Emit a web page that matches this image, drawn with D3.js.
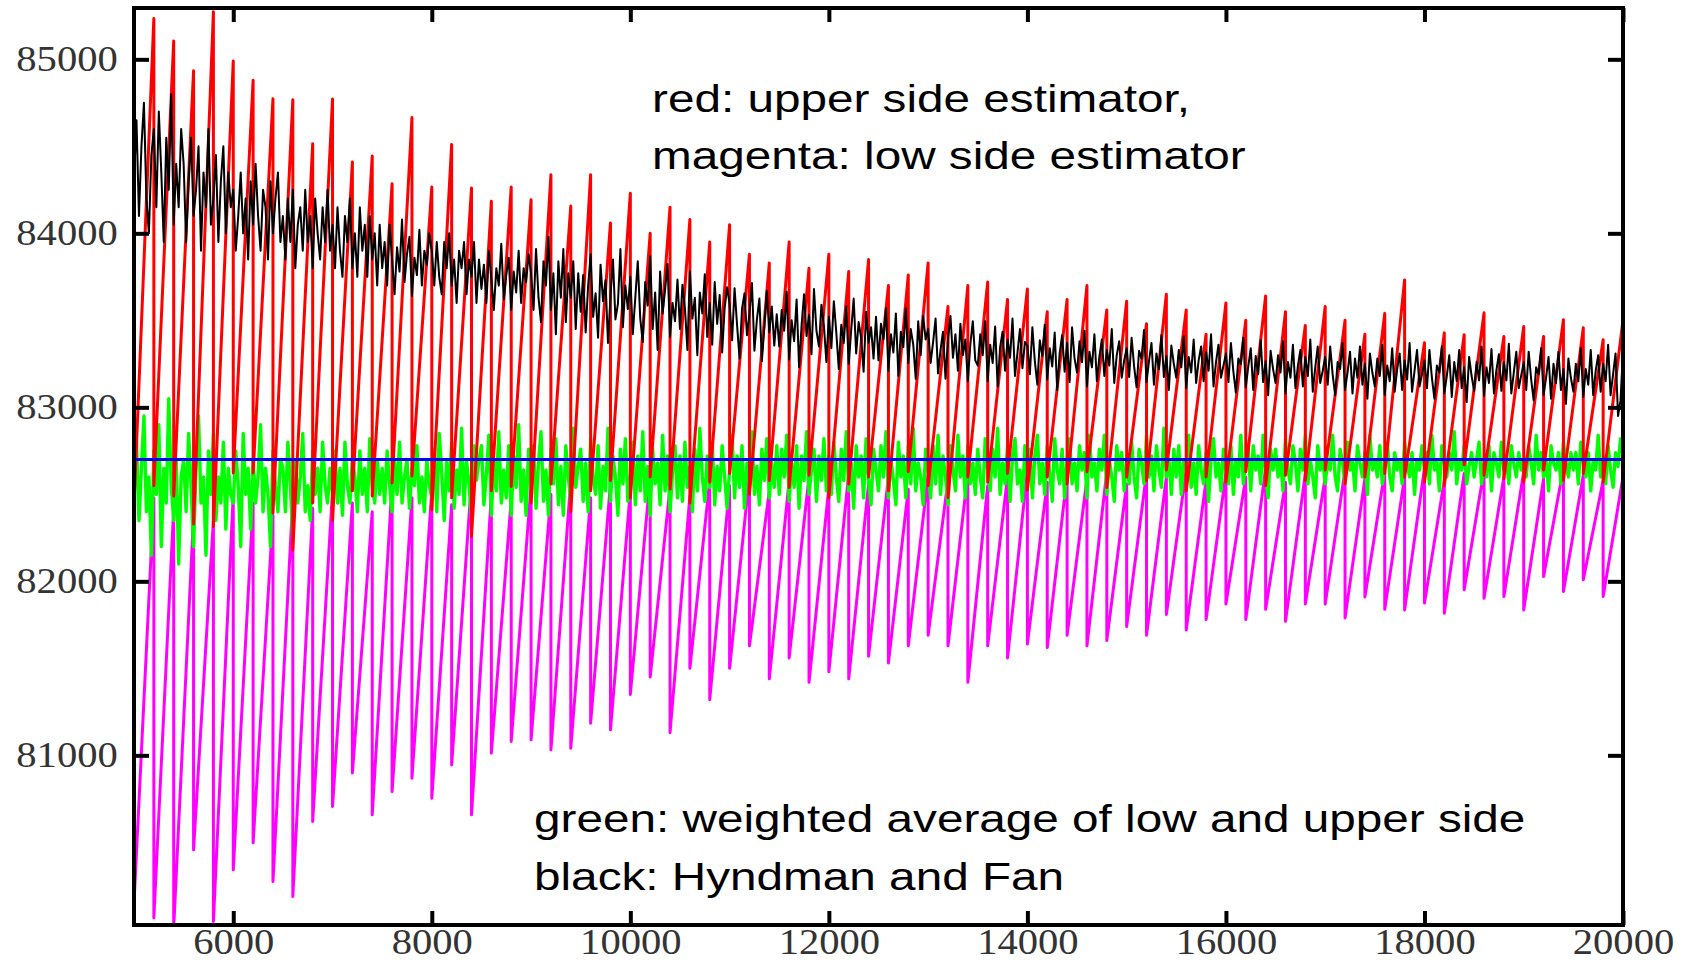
<!DOCTYPE html>
<html>
<head>
<meta charset="utf-8">
<script src="https://cdn.jsdelivr.net/npm/d3@7"></script>
<style>
    body { margin: 0; background: #fff; }
    svg { display: block; }
    .tick-label { font-family: "Liberation Serif", "Times New Roman", serif; font-size: 35px; fill: #333; }
    .note { font-family: "Liberation Sans", Arial, sans-serif; font-size: 38px; fill: #000; }
</style>
</head>
<body>
<svg id="chart" width="1689" height="963"></svg>
<script>

// Sample size at each jump of the estimators.
var toothN = [5000, 5200, 5400, 5600, 5800, 6000, 6200, 6400, 6600, 6800,
    7000, 7200, 7400, 7600, 7800, 8000, 8200, 8400, 8600, 8800,
    9000, 9200, 9400, 9600, 9800, 10000, 10200, 10400, 10600, 10800,
    11000, 11200, 11400, 11600, 11800, 12000, 12200, 12400, 12600, 12800,
    13000, 13200, 13400, 13600, 13800, 14000, 14200, 14400, 14600, 14800,
    15000, 15200, 15400, 15600, 15800, 16000, 16200, 16400, 16600, 16800,
    17000, 17200, 17400, 17600, 17800, 18000, 18200, 18400, 18600, 18800,
    19000, 19200, 19400, 19600, 19800, 20000];

// Upper side estimator: value just before each jump, and just after it.
var redPeak = [85700, 85234, 85106, 84934, 85273, 84990, 84880, 84774, 84768, 84515,
    84772, 84410, 84444, 84285, 84665, 84266, 84511, 84260, 84184, 84266,
    84193, 84337, 84157, 84337, 84060, 84230, 84000, 84150, 84080, 83950,
    84050, 83880, 83830, 83950, 83800, 83880, 83780, 83850, 83700, 83760,
    83830, 83580, 83700, 83720, 83620, 83680, 83550, 83620, 83700, 83560,
    83610, 83480, 83650, 83560, 83420, 83600, 83500, 83640, 83550, 83470,
    83580, 83500, 83420, 83540, 83732, 83371, 83428, 83417, 83543, 83407,
    83465, 83407, 83503, 83457, 83388, 83503];
var redTrough = [82430, 82550, 82490, 82330, 82315, 82623, 82623, 82393, 82180, 82450,
    82350, 82520, 82490, 82567, 82606, 82411, 82480, 82258, 82520, 82545,
    82450, 82560, 82400, 82520, 82580, 82480, 82600, 82530, 82450, 82570,
    82620, 82500, 82580, 82540, 82610, 82480, 82560, 82600, 82520, 82630,
    82550, 82480, 82600, 82570, 82620, 82525, 82600, 82560, 82630, 82540,
    82600, 82580, 82640, 82520, 82600, 82570, 82630, 82550, 82610, 82580,
    82640, 82560, 82600, 82620, 82600, 82570, 82550, 82670, 82610, 82590,
    82570, 82640, 82580, 82620, 82570];

// Low side estimator.
var magentaPeak = [82450, 82480, 82420, 82380, 82350, 82500, 82450, 82380, 82480, 82420,
    82520, 82450, 82400, 82560, 82480, 82520, 82440, 82580, 82500, 82470,
    82550, 82500, 82580, 82480, 82560, 82520, 82600, 82540, 82490, 82580,
    82550, 82610, 82520, 82580, 82600, 82540, 82620, 82560, 82600, 82530,
    82610, 82580, 82620, 82550, 82600, 82640, 82570, 82610, 82590, 82630,
    82560, 82620, 82600, 82640, 82580, 82620, 82600, 82650, 82570, 82620,
    82600, 82640, 82590, 82630, 82600, 82650, 82580, 82620, 82640, 82600,
    82630, 82590, 82650, 82610, 82580, 82600];
var magentaTrough = [80150, 80065, 80010, 80457, 80045, 80342, 80497, 80275, 80189, 80620,
    80706, 80899, 80658, 80792, 80869, 80754, 80945, 80658, 81013, 81080,
    81089, 81032, 81041, 81185, 81147, 81350, 81450, 81130, 81500, 81320,
    81500, 81630, 81440, 81560, 81420, 81480, 81440, 81570, 81530, 81630,
    81690, 81630, 81420, 81630, 81560, 81640, 81620, 81690, 81630, 81660,
    81740, 81690, 81810, 81720, 81780, 81870, 81780, 81840, 81770, 81870,
    81870, 81790, 81910, 81840, 81836, 81875, 81817, 81951, 81903, 81913,
    81836, 82028, 81942, 82009, 81913];

// Hyndman and Fan / weighted average, read every 25 from 5000 to 20000 (one row = 500).
var sampleStart = 5000, sampleStep = 25;
var blackValues = [
    84300, 84650, 84100, 84500, 84750, 84200, 84000, 84450, 84600, 84150, 84700, 84350, 83950, 84550, 84250, 84800, 84050, 84400, 84150, 84600,
    84400, 83950, 84300, 84550, 84100, 84250, 84500, 83900, 84350, 84150, 84600, 84050, 84200, 84450, 83950, 84300, 84500, 84000, 84350, 84150,
    84250, 83900, 84100, 84350, 84000, 84200, 83850, 84300, 84050, 84400, 84100, 83900, 84250, 84150, 83850, 84300, 84000, 84200, 84350, 83950,
    84100, 83850, 84200, 83950, 84250, 83800, 84050, 84150, 83900, 84250, 83950, 84100, 83800, 84200, 84000, 83850, 84150, 83950, 84250, 83900,
    84050, 83800, 84150, 83900, 83750, 84100, 83950, 84200, 83800, 84000, 83750, 84150, 83900, 84050, 83750, 84100, 83850, 84000, 83700, 84050,
    83800, 83950, 83700, 84050, 83850, 83650, 83920, 83780, 84080, 83720, 83880, 83980, 83640, 83860, 83760, 84020, 83700, 83900, 83820, 84000,
    83900, 83700, 83950, 83750, 83650, 83950, 83800, 84000, 83700, 83850, 83600, 83900, 83800, 83950, 83650, 83850, 83750, 83950, 83600, 83850,
    83680, 83820, 83600, 83900, 83740, 83560, 83800, 83700, 83940, 83620, 83760, 83860, 83560, 83780, 83660, 83900, 83600, 83800, 83720, 83880,
    83770, 83560, 83910, 83630, 83490, 83840, 83700, 83980, 83560, 83770, 83420, 83840, 83630, 83910, 83490, 83770, 83630, 83840, 83450, 83770,
    83550, 83760, 83430, 83700, 83880, 83520, 83655, 83400, 83820, 83610, 83730, 83370, 83640, 83850, 83505, 83595, 83910, 83460, 83700, 83565,
    83750, 83420, 83630, 83840, 83510, 83375, 83720, 83585, 83870, 83450, 83660, 83330, 83780, 83540, 83675, 83825, 83405, 83600, 83495, 83735,
    83450, 83705, 83570, 83330, 83780, 83510, 83630, 83300, 83660, 83540, 83765, 83405, 83600, 83360, 83720, 83480, 83645, 83315, 83570, 83690,
    83595, 83385, 83685, 83475, 83280, 83565, 83655, 83415, 83535, 83715, 83325, 83505, 83625, 83265, 83460, 83670, 83430, 83580, 83355, 83535,
    83350, 83560, 83440, 83665, 83275, 83500, 83380, 83620, 83230, 83470, 83650, 83410, 83530, 83305, 83680, 83440, 83350, 83590, 83470, 83260,
    83520, 83340, 83610, 83430, 83220, 83475, 83370, 83580, 83250, 83445, 83625, 83310, 83490, 83400, 83205, 83550, 83370, 83460, 83280, 83520,
    83270, 83480, 83390, 83570, 83210, 83420, 83315, 83540, 83180, 83435, 83345, 83570, 83255, 83450, 83360, 83165, 83495, 83300, 83525, 83390,
    83450, 83255, 83375, 83510, 83195, 83330, 83435, 83165, 83390, 83525, 83285, 83420, 83210, 83480, 83300, 83390, 83150, 83360, 83495, 83270,
    83240, 83420, 83300, 83495, 83150, 83360, 83255, 83465, 83120, 83345, 83435, 83210, 83390, 83285, 83510, 83180, 83315, 83450, 83225, 83375,
    83355, 83190, 83460, 83265, 83130, 83385, 83295, 83475, 83160, 83340, 83235, 83430, 83100, 83310, 83415, 83205, 83370, 83145, 83460, 83280,
    83200, 83380, 83260, 83440, 83120, 83320, 83230, 83420, 83150, 83290, 83390, 83180, 83330, 83240, 83450, 83140, 83300, 83380, 83170, 83270,
    83340, 83175, 83400, 83235, 83115, 83325, 83280, 83445, 83145, 83265, 83370, 83130, 83310, 83220, 83415, 83175, 83295, 83100, 83355, 83250,
    83170, 83330, 83230, 83410, 83110, 83290, 83200, 83390, 83140, 83270, 83350, 83150, 83320, 83210, 83420, 83120, 83260, 83360, 83170, 83240,
    83310, 83145, 83370, 83205, 83085, 83280, 83250, 83400, 83115, 83235, 83340, 83100, 83295, 83190, 83385, 83145, 83265, 83070, 83325, 83220,
    83140, 83300, 83200, 83380, 83080, 83260, 83170, 83360, 83110, 83240, 83330, 83120, 83290, 83180, 83390, 83090, 83230, 83350, 83140, 83210,
    83290, 83130, 83350, 83190, 83070, 83260, 83220, 83370, 83100, 83200, 83320, 83080, 83280, 83170, 83350, 83130, 83250, 83050, 83310, 83200,
    83120, 83280, 83180, 83360, 83070, 83240, 83150, 83340, 83090, 83220, 83310, 83100, 83270, 83160, 83370, 83090, 83210, 83330, 83120, 83190,
    83270, 83110, 83330, 83170, 83050, 83240, 83200, 83350, 83080, 83180, 83300, 83060, 83260, 83150, 83330, 83110, 83230, 83030, 83290, 83180,
    83095, 83260, 83155, 83350, 83065, 83230, 83140, 83335, 83080, 83215, 83305, 83095, 83260, 83155, 83365, 83080, 83200, 83320, 83110, 83185,
    83260, 83100, 83320, 83160, 83040, 83230, 83190, 83340, 83070, 83170, 83290, 83050, 83250, 83140, 83320, 83100, 83220, 83020, 83280, 83170,
    83090, 83250, 83150, 83340, 83060, 83220, 83130, 83330, 83070, 83210, 83300, 83090, 83250, 83150, 83360, 83070, 83190, 83310, 82950, 83040,
    83320];
var greenValues = [
    82500, 82800, 82350, 82650, 82950, 82400, 82600, 82150, 82750, 82500, 82900, 82200, 82650, 82450, 83050, 82550, 82350, 82700, 82100, 82600,
    82700, 82400, 82850, 82550, 82200, 82650, 82950, 82450, 82600, 82150, 82750, 82500, 82850, 82350, 82600, 82450, 82800, 82300, 82650, 82500,
    82450, 82750, 82550, 82200, 82850, 82500, 82650, 82300, 82700, 82450, 82600, 82900, 82400, 82650, 82500, 82200, 82750, 82550, 82400, 82700,
    82650, 82400, 82800, 82550, 82250, 82700, 82450, 82600, 82850, 82400, 82550, 82350, 82750, 82500, 82650, 82400, 82800, 82550, 82450, 82650,
    82500, 82750, 82450, 82650, 82380, 82800, 82550, 82450, 82700, 82600, 82400, 82750, 82500, 82650, 82400, 82820, 82550, 82450, 82700, 82500,
    82650, 82450, 82750, 82550, 82400, 82700, 82500, 82800, 82450, 82600, 82700, 82420, 82650, 82550, 82780, 82450, 82600, 82400, 82700, 82550,
    82480, 82760, 82400, 82850, 82620, 82350, 82700, 82520, 82800, 82420, 82640, 82500, 82880, 82440, 82690, 82560, 82360, 82780, 82580, 82700,
    82780, 82440, 82620, 82840, 82380, 82700, 82520, 82860, 82450, 82640, 82480, 82780, 82380, 82720, 82540, 82900, 82460, 82640, 82380, 82760,
    82540, 82780, 82420, 82680, 82860, 82460, 82640, 82380, 82760, 82560, 82820, 82440, 82660, 82380, 82780, 82600, 82460, 82880, 82540, 82660,
    82760, 82460, 82680, 82400, 82820, 82600, 82500, 82780, 82420, 82660, 82520, 82880, 82460, 82720, 82600, 82380, 82760, 82560, 82820, 82460,
    82600, 82800, 82440, 82720, 82520, 82860, 82460, 82660, 82380, 82760, 82560, 82680, 82440, 82840, 82520, 82720, 82400, 82620, 82780, 82480,
    82720, 82460, 82800, 82540, 82660, 82400, 82760, 82520, 82880, 82600, 82460, 82720, 82540, 82800, 82440, 82660, 82520, 82780, 82600, 82420,
    82640, 82840, 82480, 82720, 82540, 82780, 82420, 82680, 82580, 82860, 82500, 82660, 82440, 82760, 82580, 82820, 82480, 82680, 82540, 82780,
    82500, 82760, 82600, 82840, 82460, 82680, 82540, 82780, 82420, 82720, 82580, 82860, 82500, 82640, 82760, 82460, 82720, 82580, 82820, 82520,
    82720, 82500, 82800, 82600, 82460, 82760, 82580, 82860, 82520, 82680, 82420, 82780, 82600, 82720, 82480, 82820, 82580, 82440, 82760, 82640,
    82520, 82780, 82600, 82860, 82480, 82700, 82580, 82440, 82800, 82600, 82720, 82480, 82780, 82560, 82880, 82520, 82680, 82600, 82440, 82760,
    82640, 82480, 82780, 82560, 82840, 82500, 82720, 82600, 82440, 82780, 82640, 82520, 82840, 82600, 82720, 82480, 82780, 82560, 82680, 82500,
    82760, 82600, 82480, 82820, 82640, 82520, 82760, 82600, 82880, 82500, 82680, 82560, 82780, 82460, 82720, 82820, 82560, 82640, 82460, 82780,
    82600, 82760, 82480, 82720, 82840, 82560, 82680, 82500, 82780, 82620, 82460, 82820, 82640, 82560, 82760, 82480, 82700, 82820, 82560, 82680,
    82520, 82780, 82640, 82740, 82480, 82840, 82600, 82680, 82520, 82760, 82640, 82840, 82500, 82700, 82600, 82460, 82780, 82640, 82740, 82520,
    82700, 82560, 82800, 82600, 82480, 82760, 82680, 82560, 82840, 82600, 82720, 82520, 82780, 82640, 82540, 82880, 82600, 82700, 82500, 82760,
    82600, 82780, 82500, 82700, 82640, 82840, 82540, 82680, 82500, 82780, 82640, 82560, 82740, 82460, 82700, 82820, 82600, 82680, 82520, 82760,
    82640, 82560, 82780, 82500, 82700, 82600, 82840, 82560, 82680, 82760, 82520, 82780, 82640, 82720, 82560, 82840, 82600, 82480, 82760, 82640,
    82760, 82600, 82700, 82520, 82820, 82640, 82560, 82780, 82680, 82520, 82760, 82640, 82840, 82560, 82700, 82600, 82480, 82780, 82640, 82700,
    82560, 82700, 82640, 82840, 82600, 82520, 82760, 82680, 82560, 82800, 82640, 82700, 82520, 82780, 82680, 82600, 82740, 82500, 82840, 82640,
    82700, 82600, 82780, 82560, 82660, 82800, 82600, 82520, 82740, 82640, 82700, 82560, 82800, 82680, 82600, 82740, 82500, 82700, 82640, 82780,
    82640, 82740, 82560, 82840, 82640, 82700, 82520, 82780, 82680, 82600, 82740, 82640, 82860, 82560, 82700, 82640, 82780, 82560, 82660, 82740,
    82600, 82700, 82800, 82560, 82680, 82600, 82780, 82520, 82740, 82680, 82600, 82800, 82640, 82700, 82560, 82780, 82680, 82600, 82740, 82640,
    82700, 82600, 82780, 82680, 82560, 82840, 82640, 82740, 82600, 82700, 82520, 82780, 82680, 82640, 82740, 82560, 82800, 82680, 82600, 82740,
    82640, 82740, 82560, 82800, 82680, 82600, 82740, 82520, 82700, 82640, 82840, 82600, 82700, 82560, 82780, 82640, 82540, 82740, 82660, 82820,
    82800];

// True value (blue line).
var trueValue = 82700;

var xTicks = [6000, 8000, 10000, 12000, 14000, 16000, 18000, 20000];
var yTicks = [81000, 82000, 83000, 84000, 85000];

var notes = [
    {text: "red: upper side estimator,", left: 652, base: 112},
    {text: "magenta: low side estimator", left: 652, base: 169},
    {text: "green: weighted average of low and upper side", left: 534, base: 832},
    {text: "black: Hyndman and Fan", left: 534, base: 890}
];

createChart();

function createChart() {

    var svg = d3.select("#chart");

    var x = d3.scaleLinear().domain([5000, 20000]).range([134, 1623]),
        y = d3.scaleLinear().domain([80025, 85295]).range([925, 8]);

    svg.append("defs").append("clipPath")
        .attr("id", "plotClip")
        .append("rect")
        .attr("x", x(5000))
        .attr("y", y(85295))
        .attr("width", x(20000) - x(5000))
        .attr("height", y(80025) - y(85295));

    var line = d3.line()
        .x(function (d) { return x(d[0]); })
        .y(function (d) { return y(d[1]); });

    function sawPoints(peaks, troughs) {
        var pts = [];
        toothN.forEach(function (n, i) {
            pts.push([n, peaks[i]]);
            if (i < troughs.length) pts.push([n, troughs[i]]);
        });
        return pts;
    }

    function samplePoints(values) {
        return values.map(function (v, i) { return [sampleStart + i * sampleStep, v]; });
    }

    // Drawing order: magenta under green, red over green, black and blue on top.
    var series = [
        {pts: sawPoints(magentaPeak, magentaTrough), color: "#ff00ff", width: 3},
        {pts: samplePoints(greenValues), color: "#00ff00", width: 3.4},
        {pts: sawPoints(redPeak, redTrough), color: "#ff0000", width: 3},
        {pts: samplePoints(blackValues), color: "#000000", width: 2},
        {pts: [[5000, trueValue], [20000, trueValue]], color: "#0000ff", width: 3}
    ];

    var plot = svg.append("g").attr("clip-path", "url(#plotClip)");

    series.forEach(function (s) {
        plot.append("path")
            .datum(s.pts)
            .attr("fill", "none")
            .attr("stroke", s.color)
            .attr("stroke-width", s.width)
            .attr("stroke-linejoin", "round")
            .attr("d", line);
    });

    // Inward ticks on all four sides.
    var bottom = svg.append("g")
        .attr("transform", "translate(0," + y(80025) + ")")
        .call(d3.axisBottom(x).tickValues(xTicks).tickSize(-14).tickSizeOuter(0).tickPadding(4).tickFormat(d3.format("d")));

    var left = svg.append("g")
        .attr("transform", "translate(" + x(5000) + ",0)")
        .call(d3.axisLeft(y).tickValues(yTicks).tickSize(-15).tickSizeOuter(0).tickPadding(14).tickFormat(d3.format("d")));

    var top = svg.append("g")
        .attr("transform", "translate(0," + y(85295) + ")")
        .call(d3.axisTop(x).tickValues(xTicks).tickSize(-14).tickSizeOuter(0).tickFormat(""));

    var right = svg.append("g")
        .attr("transform", "translate(" + x(20000) + ",0)")
        .call(d3.axisRight(y).tickValues(yTicks).tickSize(-15).tickSizeOuter(0).tickFormat(""));

    [bottom, left, top, right].forEach(function (a) {
        a.select(".domain").remove();
        a.selectAll(".tick line").attr("stroke", "#000").attr("stroke-width", 4);
    });

    [bottom, left].forEach(function (a) {
        a.selectAll(".tick text")
            .attr("class", "tick-label")
            .attr("transform", "scale(1.16,1)");
    });

    svg.append("rect")
        .attr("x", x(5000))
        .attr("y", y(85295))
        .attr("width", x(20000) - x(5000))
        .attr("height", y(80025) - y(85295))
        .attr("fill", "none")
        .attr("stroke", "#000")
        .attr("stroke-width", 4);

    svg.selectAll(".note")
        .data(notes)
        .enter().append("text")
        .attr("class", "note")
        .attr("transform", function (d) { return "translate(" + d.left + "," + d.base + ") scale(1.255,1)"; })
        .text(function (d) { return d.text; });
}
</script>
</body>
</html>
